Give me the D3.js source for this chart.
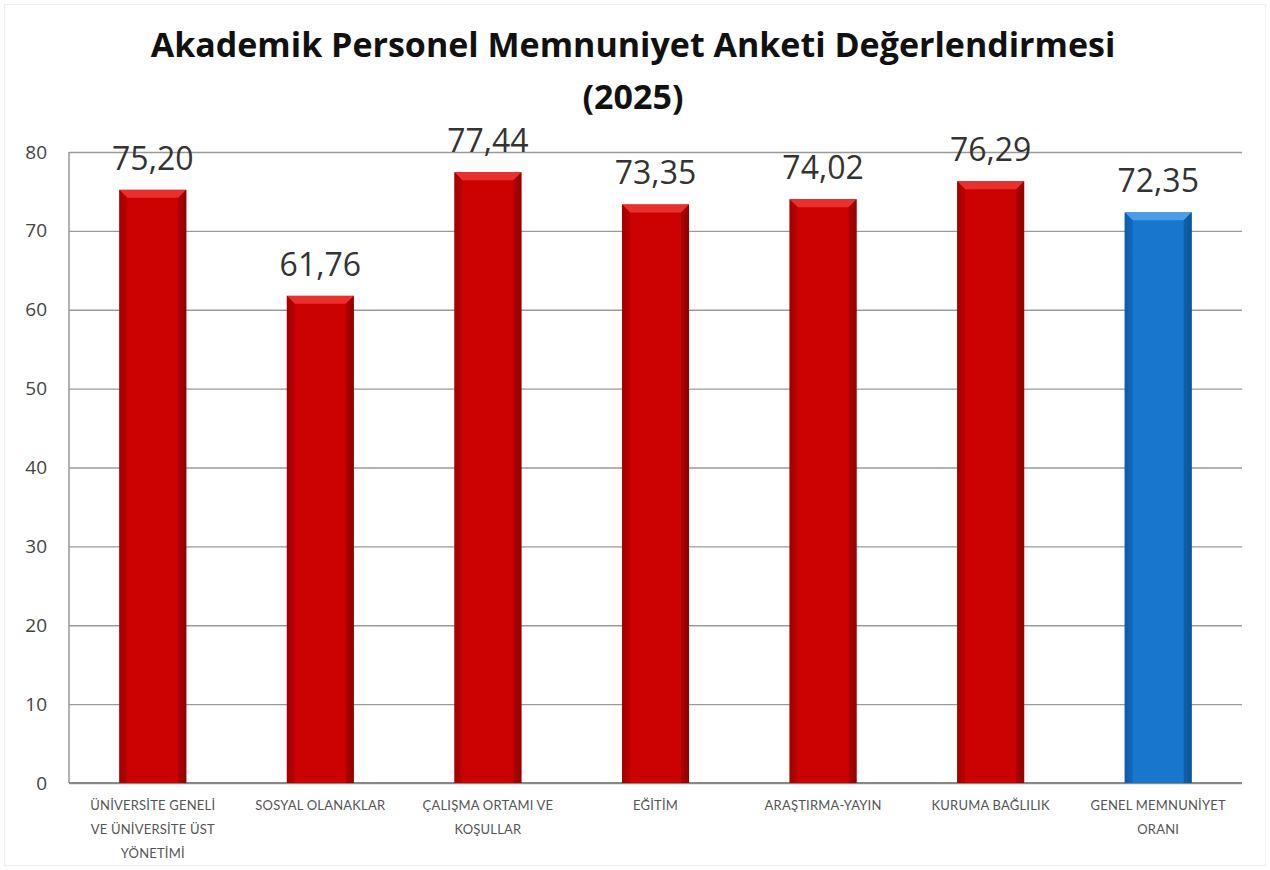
<!DOCTYPE html>
<html>
<head>
<meta charset="utf-8">
<script src="https://cdn.jsdelivr.net/npm/d3@7"></script>
<style>
  body { margin: 0; background: #fff; }
  .y-axis text { font-family: "Open Sans", sans-serif; font-size: 19px; fill: #444; }
  .x-label { font-family: "Lato", sans-serif; font-size: 13px; fill: #555; letter-spacing: 0.2px; }
  .value { font-family: "Open Sans", sans-serif; font-size: 32px; fill: #333; }
  .title { font-family: "Open Sans", sans-serif; font-weight: bold; fill: #111; }
</style>
</head>
<body>
<div id="chart"></div>
<script>
// values
const categories = [
  ["ÜNİVERSİTE GENELİ", "VE ÜNİVERSİTE ÜST", "YÖNETİMİ"],
  ["SOSYAL OLANAKLAR"],
  ["ÇALIŞMA ORTAMI VE", "KOŞULLAR"],
  ["EĞİTİM"],
  ["ARAŞTIRMA-YAYIN"],
  ["KURUMA BAĞLILIK"],
  ["GENEL MEMNUNİYET", "ORANI"]
];
const values = [75.20, 61.76, 77.44, 73.35, 74.02, 76.29, 72.35];
const yTicks = [0, 10, 20, 30, 40, 50, 60, 70, 80];
const titleLines = ["Akademik Personel Memnuniyet Anketi Değerlendirmesi", "(2025)"];

let width = 1270,
    height = 870,
    margin = ({ top: 152, right: 28, bottom: 87, left: 69 });

const svg = d3.select("#chart")
  .append("svg")
  .attr("width", width)
  .attr("height", height);

// faint frame round the picture
svg.append("rect")
  .attr("x", 4.5).attr("y", 4.5)
  .attr("width", width - 9).attr("height", height - 9)
  .attr("fill", "none")
  .attr("stroke", "#eee");

let defs = svg.append("defs");

function barGradient(id, edge, mid) {
  let g = defs.append("linearGradient").attr("id", id)
    .attr("x1", 0).attr("x2", 1).attr("y1", 0).attr("y2", 0);
  g.append("stop").attr("offset", "0%").attr("stop-color", edge);
  g.append("stop").attr("offset", "10%").attr("stop-color", mid);
  g.append("stop").attr("offset", "90%").attr("stop-color", mid);
  g.append("stop").attr("offset", "100%").attr("stop-color", edge);
}
barGradient("red", "#9a0000", "#cc0202");
barGradient("blue", "#0d5aa3", "#1877cc");

let x = d3.scaleBand()
  .domain(d3.range(values.length))
  .range([margin.left, width - margin.right])
  .paddingInner(0.6)
  .paddingOuter(0.3);

let y = d3.scaleLinear()
  .domain([0, 80])
  .range([height - margin.bottom, margin.top]);

// grid + y axis
svg.append("g")
  .attr("class", "y-axis")
  .attr("transform", `translate(${margin.left},0)`)
  .call(d3.axisLeft(y).tickValues(yTicks).tickSize(-(width - margin.left - margin.right)).tickPadding(22))
  .call(g => g.select(".domain").remove())
  .call(g => g.selectAll(".tick line").attr("stroke", "#9a9a9a").attr("stroke-width", 1.3));

// axis frame lines
svg.append("line")
  .attr("x1", margin.left).attr("x2", margin.left)
  .attr("y1", y(80)).attr("y2", y(0))
  .attr("stroke", "#999").attr("stroke-width", 1.5);
svg.append("line")
  .attr("x1", margin.left).attr("x2", width - margin.right)
  .attr("y1", y(0)).attr("y2", y(0))
  .attr("stroke", "#888").attr("stroke-width", 1.8);

let bev = 8;
values.forEach((v, i) => {
  let last = i === values.length - 1;
  let x0 = x(i), w = x.bandwidth(), top = y(v), bottom = y(0);
  let g = svg.append("g").attr("class", "bar");

  g.append("rect")
    .attr("x", x0).attr("y", top)
    .attr("width", w).attr("height", bottom - top)
    .attr("fill", last ? "url(#blue)" : "url(#red)");

  // top bevel
  g.append("path")
    .attr("d", `M${x0},${top} L${x0 + w},${top} L${x0 + w - bev},${top + bev} L${x0 + bev},${top + bev} Z`)
    .attr("fill", last ? "#4a9de6" : "#e8302e");
  g.append("path")
    .attr("d", `M${x0},${top} L${x0 + bev},${top + bev} L${x0 + bev},${bottom} L${x0},${bottom} Z`)
    .attr("fill", last ? "#0e5ea8" : "#a80000").attr("opacity", 0.6);
  g.append("path")
    .attr("d", `M${x0 + w},${top} L${x0 + w - bev},${top + bev} L${x0 + w - bev},${bottom} L${x0 + w},${bottom} Z`)
    .attr("fill", last ? "#0b4f8e" : "#8f0000").attr("opacity", 0.6);

  svg.append("text")
    .attr("class", "value")
    .attr("x", x0 + w / 2)
    .attr("y", top - 20)
    .attr("text-anchor", "middle")
    .text(d3.format(".2f")(v).replace(".", ","));
});

// category labels
categories.forEach((lines, i) => {
  let t = svg.append("text")
    .attr("class", "x-label")
    .attr("text-anchor", "middle")
    .attr("x", x(i) + x.bandwidth() / 2)
    .attr("y", 810);
  lines.forEach((l, k) => {
    t.append("tspan")
      .attr("x", x(i) + x.bandwidth() / 2)
      .attr("dy", k === 0 ? 0 : 24)
      .text(l);
  });
});

// title
titleLines.forEach((l, k) => {
  svg.append("text")
    .attr("class", "title")
    .attr("x", 633)
    .attr("y", k === 0 ? 57 : 109)
    .attr("text-anchor", "middle")
    .style("font-size", "34px")
    .text(l);
});
</script>
</body>
</html>
